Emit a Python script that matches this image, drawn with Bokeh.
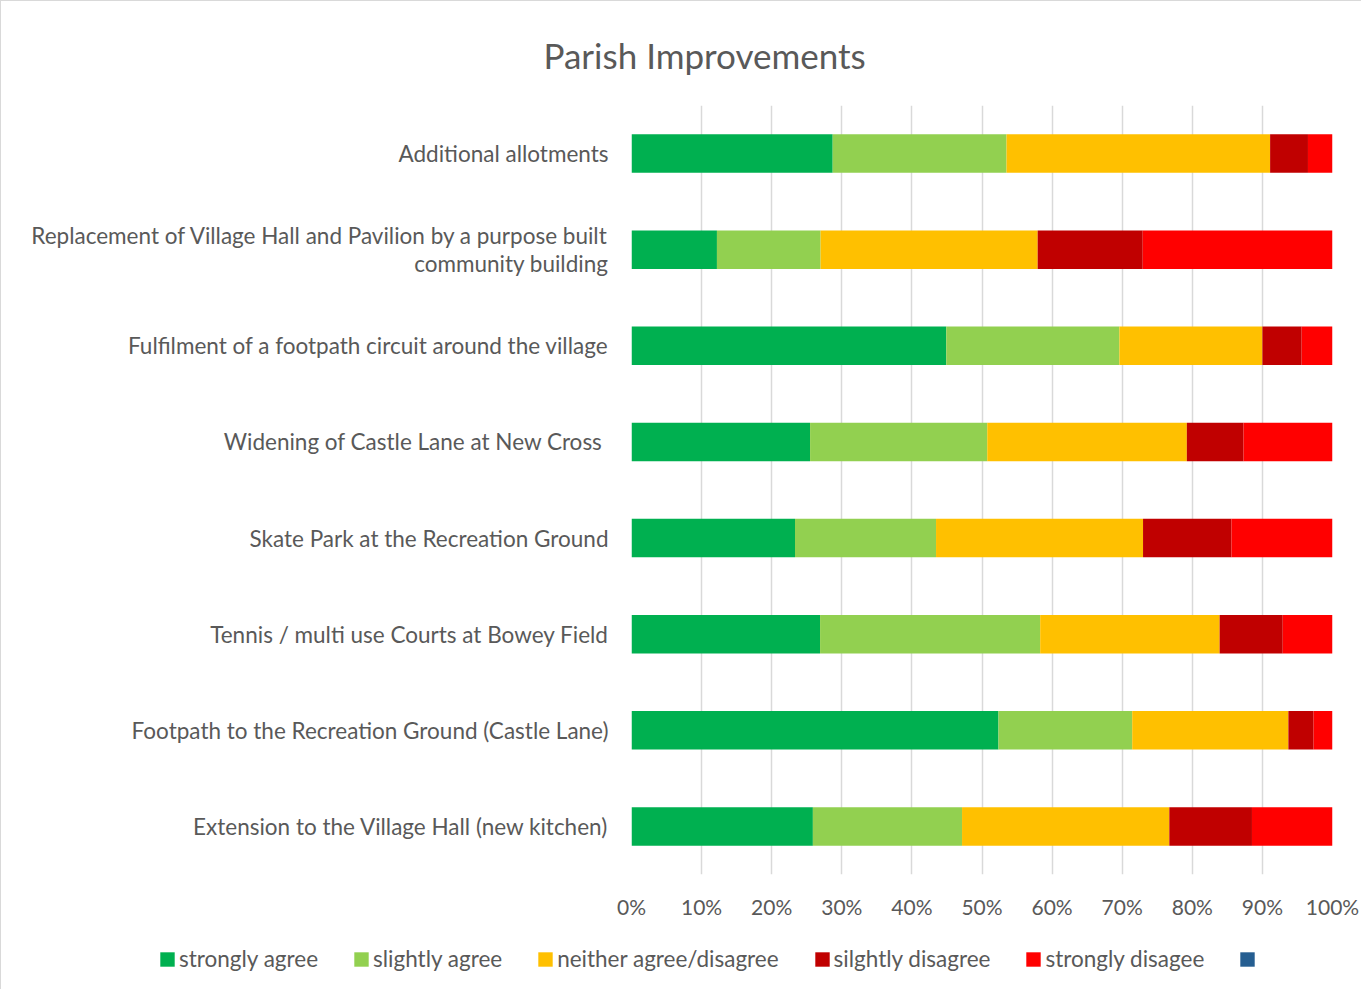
from bokeh.plotting import figure
from bokeh.layouts import column
from bokeh.models import (ColumnDataSource, FactorRange, Range1d, NumeralTickFormatter,
                          FixedTicker, Legend, LegendItem)
from bokeh.embed import file_html
from bokeh.resources import INLINE

categories = [
    "Additional allotments",
    "Replacement of Village Hall and Pavilion by a purpose built\ncommunity building",
    "Fulfilment of a footpath circuit around the village",
    "Widening of Castle Lane at New Cross ",
    "Skate Park at the Recreation Ground",
    "Tennis / multi use Courts at Bowey Field",
    "Footpath to the Recreation Ground (Castle Lane)",
    "Extension to the Village Hall (new kitchen)",
]
strongly_agree = [28.7, 12.2, 44.9, 25.5, 23.3, 26.9, 52.4, 25.9]
slightly_agree = [24.8, 14.8, 24.7, 25.3, 20.1, 31.4, 19.1, 21.3]
neither = [37.6, 31.0, 20.4, 28.5, 29.5, 25.6, 22.3, 29.6]
slightly_disagree = [5.4, 15.0, 5.6, 8.1, 12.6, 9.0, 3.6, 11.8]
strongly_disagree = [3.5, 27.1, 4.4, 12.7, 14.4, 7.1, 2.7, 11.5]

series_names = ["strongly agree", "slightly agree", "neither agree/disagree",
                "silghtly disagree", "strongly disagee", " "]
series_colors = ["#00B050", "#92D050", "#FFC000", "#C00000", "#FF0000", "#255E91"]
x_ticks = [0, 0.1, 0.2, 0.3, 0.4, 0.5, 0.6, 0.7, 0.8, 0.9, 1.0]

series = [strongly_agree, slightly_agree, neither, slightly_disagree, strongly_disagree]
totals = [sum(v[i] for v in series) for i in range(len(categories))]
keys = ["s%d" % k for k in range(len(series))]
data = {"cat": categories}
for k, vals in zip(keys, series):
    data[k] = [v / t for v, t in zip(vals, totals)]
src = ColumnDataSource(data)

TXT = "#595959"
FONT = "Lato"

p = figure(width=1360, height=938, output_backend="svg", toolbar_location=None,
           y_range=FactorRange(factors=list(reversed(categories)), range_padding=0),
           x_range=Range1d(0, 1),
           min_border_left=630, min_border_right=29, min_border_top=104, min_border_bottom=65)
p.outline_line_color = None
p.frame_align = False

p.title.text = "Parish Improvements"
p.title.text_font = FONT
p.title.text_font_size = "35px"
p.title.text_font_style = "normal"
p.title.text_color = TXT
p.title.align = "left"
p.title.offset = -88
p.title.standoff = 60

p.hbar_stack(keys, y="cat", height=0.4, color=series_colors[:5], source=src, line_color=None)

p.xaxis.ticker = FixedTicker(ticks=x_ticks)
p.xaxis.formatter = NumeralTickFormatter(format="0%")
p.xaxis.axis_line_color = None
p.xaxis.major_tick_line_color = None
p.xaxis.minor_tick_line_color = None
p.xaxis.major_tick_out = 0
p.xaxis.major_label_standoff = 19
p.xaxis.major_label_text_font = FONT
p.xaxis.major_label_text_font_size = "21px"
p.xaxis.major_label_text_color = TXT

p.yaxis.axis_line_color = None
p.yaxis.major_tick_line_color = None
p.yaxis.minor_tick_line_color = None
p.yaxis.major_tick_out = 0
p.yaxis.major_label_standoff = 23
p.yaxis.major_label_text_font = FONT
p.yaxis.major_label_text_font_size = "22.5px"
p.yaxis.major_label_text_line_height = 1.05
p.yaxis.major_label_text_color = TXT

p.xgrid.grid_line_color = "#d9d9d9"
p.xgrid.grid_line_width = 1.5
p.ygrid.grid_line_color = None

# legend strip below the chart
lg = figure(width=1360, height=50, output_backend="svg", toolbar_location=None,
            x_range=Range1d(0, 1), y_range=Range1d(0, 1),
            min_border_left=0, min_border_right=0, min_border_top=0, min_border_bottom=0)
lg.frame_align = False
lg.axis.visible = False
lg.grid.visible = False
lg.outline_line_color = None
nan = float("nan")
items = []
for name, col in zip(series_names, series_colors):
    r = lg.rect(x=[nan], y=[nan], width=0.01, height=0.01, fill_color=col, line_color=None)
    items.append(LegendItem(label=name, renderers=[r]))
legend = Legend(items=items, orientation="horizontal", location=(157, 17),
                glyph_width=18, glyph_height=18, label_standoff=3, spacing=34,
                padding=0, margin=0, border_line_color=None, background_fill_alpha=0,
                label_text_font=FONT, label_text_font_size="22.5px", label_text_color=TXT)
lg.add_layout(legend, "center")

layout = column(p, lg, spacing=0)
layout.styles = {"border-top": "1px solid #d9d9d9", "border-left": "1px solid #d9d9d9"}

open("out.html", "w").write(file_html(layout, INLINE))
